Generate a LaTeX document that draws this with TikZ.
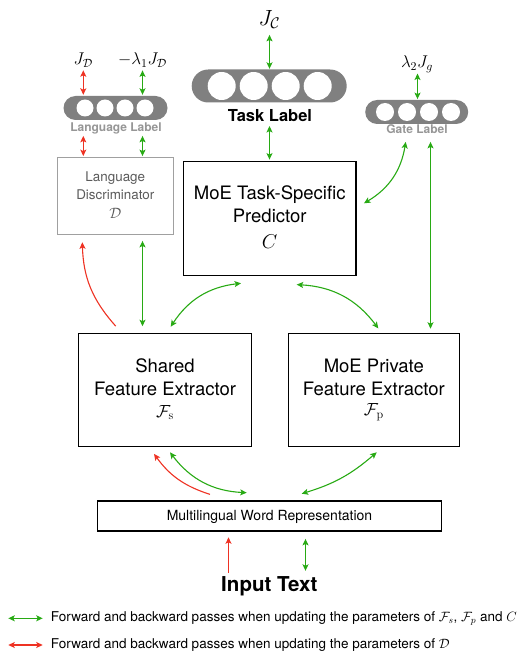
\RequirePackage{fix-cm}
\documentclass[tikz,border=0pt]{standalone}
\usepackage[no-math]{fontspec}
\setmainfont{TeX Gyre Heros}
\usetikzlibrary{arrows.meta,calc}
\definecolor{fwdgreen}{RGB}{40,170,20}
\definecolor{advred}{RGB}{238,50,35}
\definecolor{pillgray}{RGB}{128,128,128}
\definecolor{lblgray}{RGB}{150,150,150}
\definecolor{discgray}{RGB}{160,160,160}
\definecolor{disctext}{RGB}{90,90,90}
\begin{document}
\begin{tikzpicture}[x=1pt,y=-1pt,
  gdbl/.style={fwdgreen, line width=1.1pt, arrows={Stealth[length=6.5pt,width=6pt,inset=1.5pt]-Stealth[length=6.5pt,width=6pt,inset=1.5pt]}},
  rdbl/.style={advred, line width=1.1pt, arrows={Stealth[length=6.5pt,width=6pt,inset=1.5pt]-Stealth[length=6.5pt,width=6pt,inset=1.5pt]}},
  rsgl/.style={advred, line width=1.1pt, arrows={-Stealth[length=6.5pt,width=6pt,inset=1.5pt]}},
  pill/.style={fill=pillgray, inner sep=0pt},
  hole/.style={circle, fill=white, inner sep=0pt},
  box/.style={draw=black, line width=1.2pt, inner sep=0pt},
  discbox/.style={draw=discgray, line width=1.2pt, inner sep=0pt},
  txt/.style={inner sep=0pt, align=center},
  title/.style={txt, font=\fontsize{18.5}{23}\selectfont},
  graylbl/.style={txt, text=lblgray, font=\fontsize{12}{14}\selectfont\bfseries},
  mathlbl/.style={txt, font=\fontsize{17}{19}\selectfont},
  legend/.style={inner sep=0pt, anchor=west, font=\fontsize{13.5}{16}\selectfont}
]
\useasboundingbox (0,0) rectangle (527,652);

% ---------- Task label ----------
\node[pill, minimum width=155pt, minimum height=33pt, rounded corners=16.5pt] (taskpill) at (269.2,86) {};
\foreach \i/\x in {1/221.7,2/253.7,3/285.7,4/317.7}
  \node[hole, minimum size=28pt] (th\i) at (\x,86) {};
\node[txt, font=\fontsize{16.5}{19}\selectfont\bfseries] (tasklabel) at (270,115.7) {Task Label};
\node[txt, font=\fontsize{22}{24}\selectfont] (JC) at (269.3,19.5) {$J_{\mathcal{C}}$};

% ---------- Language label ----------
\node[pill, minimum width=104pt, minimum height=24pt, rounded corners=12pt] (langpill) at (115.5,108) {};
\foreach \i/\x in {1/85,2/105,3/125,4/145}
  \node[hole, minimum size=17pt] (lh\i) at (\x,108) {};
\node[graylbl] (langlabel) at (116,128) {Language Label};
\node[mathlbl] (JD) at (83.3,60) {$J_{\mathcal{D}}$};
\node[mathlbl] (JL) at (142.5,60) {$-\lambda_1 J_{\mathcal{D}}$};

% ---------- Gate label ----------
\node[pill, minimum width=103pt, minimum height=24pt, rounded corners=12pt] (gatepill) at (416.7,112) {};
\foreach \i/\x in {1/385,2/407,3/429,4/451}
  \node[hole, minimum size=18pt] (gh\i) at (\x,112) {};
\node[graylbl] (gatelabel) at (417,129.5) {Gate Label};
\node[mathlbl] (LJ) at (417,64) {$\lambda_2 J_g$};

% ---------- Boxes ----------
\node[box, minimum width=172.7pt, minimum height=114pt] (pred) at (269.7,218.7) {};
\node[title] (predT) at (269.7,204.5) {MoE Task-Specific\\Predictor};
\node[txt, font=\fontsize{20}{22}\selectfont] (predC) at (269.7,241.5) {$C$};

\node[discbox, minimum width=116pt, minimum height=76.6pt] (disc) at (115.3,196) {};
\node[txt, text=disctext, font=\fontsize{13.4}{17.7}\selectfont] (discT) at (115.3,185.8) {Language\\Discriminator};
\node[txt, text=disctext, font=\fontsize{15}{17}\selectfont] (discD) at (115.3,213.5) {$\mathcal{D}$};

\node[box, minimum width=173pt, minimum height=113.4pt] (shared) at (165,390) {};
\node[title] (sharedT) at (165,377.5) {Shared\\Feature Extractor};
\node[txt, font=\fontsize{17.5}{19}\selectfont] (sharedF) at (165,412.5) {$\mathcal{F}_{\mathrm{s}}$};

\node[box, minimum width=171pt, minimum height=113.4pt] (private) at (373.8,390) {};
\node[title] (privT) at (373.8,377.5) {MoE Private\\Feature Extractor};
\node[txt, font=\fontsize{17.5}{19}\selectfont] (privF) at (373.8,412.5) {$\mathcal{F}_{\mathrm{p}}$};

\node[box, minimum width=344.4pt, minimum height=30pt] (multi) at (269.5,516) {};
\node[txt, font=\fontsize{14}{16}\selectfont] (multiT) at (269.5,516.5) {Multilingual Word Representation};

\node[txt, font=\fontsize{20.5}{24}\selectfont\bfseries] (input) at (269.3,586.7) {Input Text};

% ---------- column coordinates ----------
\coordinate (cR) at (83.3,0);
\coordinate (cG) at (142.5,0);
\coordinate (cT) at (269.5,0);
\coordinate (cGt) at (417.5,0);
\coordinate (cGate) at (430.5,0);
\coordinate (cRi) at (228.5,0);
\coordinate (cGi) at (305.5,0);

% ---------- connectors (top) ----------
\draw[gdbl, shorten <=6pt, shorten >=0.5pt] (cT |- JC.south) -- (cT |- taskpill.north);
\draw[gdbl, shorten <=4pt, shorten >=1.5pt] (cT |- tasklabel.south) -- (cT |- pred.north);

\draw[rdbl, shorten <=3pt, shorten >=1pt] (cR |- JD.south) -- (cR |- langpill.north);
\draw[gdbl, shorten <=3pt, shorten >=1pt] (cG |- JL.south) -- (cG |- langpill.north);
\draw[rdbl, shorten <=2pt, shorten >=1pt] (cR |- langlabel.south) -- (cR |- disc.north);
\draw[gdbl, shorten <=2pt, shorten >=1pt] (cG |- langlabel.south) -- (cG |- disc.north);

\draw[gdbl, shorten <=1pt, shorten >=0.7pt] (cGt |- LJ.south) -- (cGt |- gatepill.north);
\draw[gdbl] ($(gatepill.south)+(-11,17.7)$) to[bend left=25] ($(pred.east)+(7.3,-15.4)$);
\draw[gdbl, shorten <=17.7pt, shorten >=4pt] (cGate |- gatepill.south) -- (cGate |- private.north);

% ---------- connectors (middle) ----------
\draw[rsgl] ($(shared.north)+(-49.3,-6.6)$) to[bend left=20] ($(disc.south)+(-33,7.4)$);
\draw[gdbl, shorten <=6pt, shorten >=6.5pt] (cG |- disc.south) -- (cG |- shared.north);
\draw[gdbl] ($(shared.north)+(5.7,-6)$) to[bend left=25] ($(pred.south)+(-28.7,7)$);
\draw[gdbl] ($(pred.south)+(27,8.3)$) to[bend left=25] ($(private.north)+(4.5,-4.3)$);

% ---------- connectors (bottom) ----------
\draw[rsgl] ($(multi.north)+(-59.5,-6)$) to[bend left=18] ($(shared.south)+(-11,6.6)$);
\draw[gdbl] ($(shared.south)+(5,5)$) to[bend right=25] ($(multi.north)+(-22.8,-7.7)$);
\draw[gdbl] ($(private.south)+(2.9,5)$) to[bend left=12] ($(multi.north)+(32.2,-6.7)$);
\draw[rsgl, shorten <=4.3pt, shorten >=5.7pt] (cRi |- input.north) -- (cRi |- multi.south);
\draw[gdbl, shorten <=7.3pt, shorten >=6pt] (cGi |- multi.south) -- (cGi |- input.north);

% ---------- legend ----------
\coordinate (lgA1) at (8.3,618.3);
\coordinate (lgB1) at (42.7,618.3);
\coordinate (lgA2) at (8.3,645);
\coordinate (lgB2) at (42.7,645);
\draw[gdbl] (lgA1) -- (lgB1);
\draw[rdbl] (lgA2) -- (lgB2);
\node[legend] (leg1) at (50.7,618.3) {Forward and backward passes when updating the parameters of $\mathcal{F}_s$, $\mathcal{F}_p$ and $C$};
\node[legend] (leg2) at (50.7,645) {Forward and backward passes when updating the parameters of $\mathcal{D}$};
\end{tikzpicture}
\end{document}
